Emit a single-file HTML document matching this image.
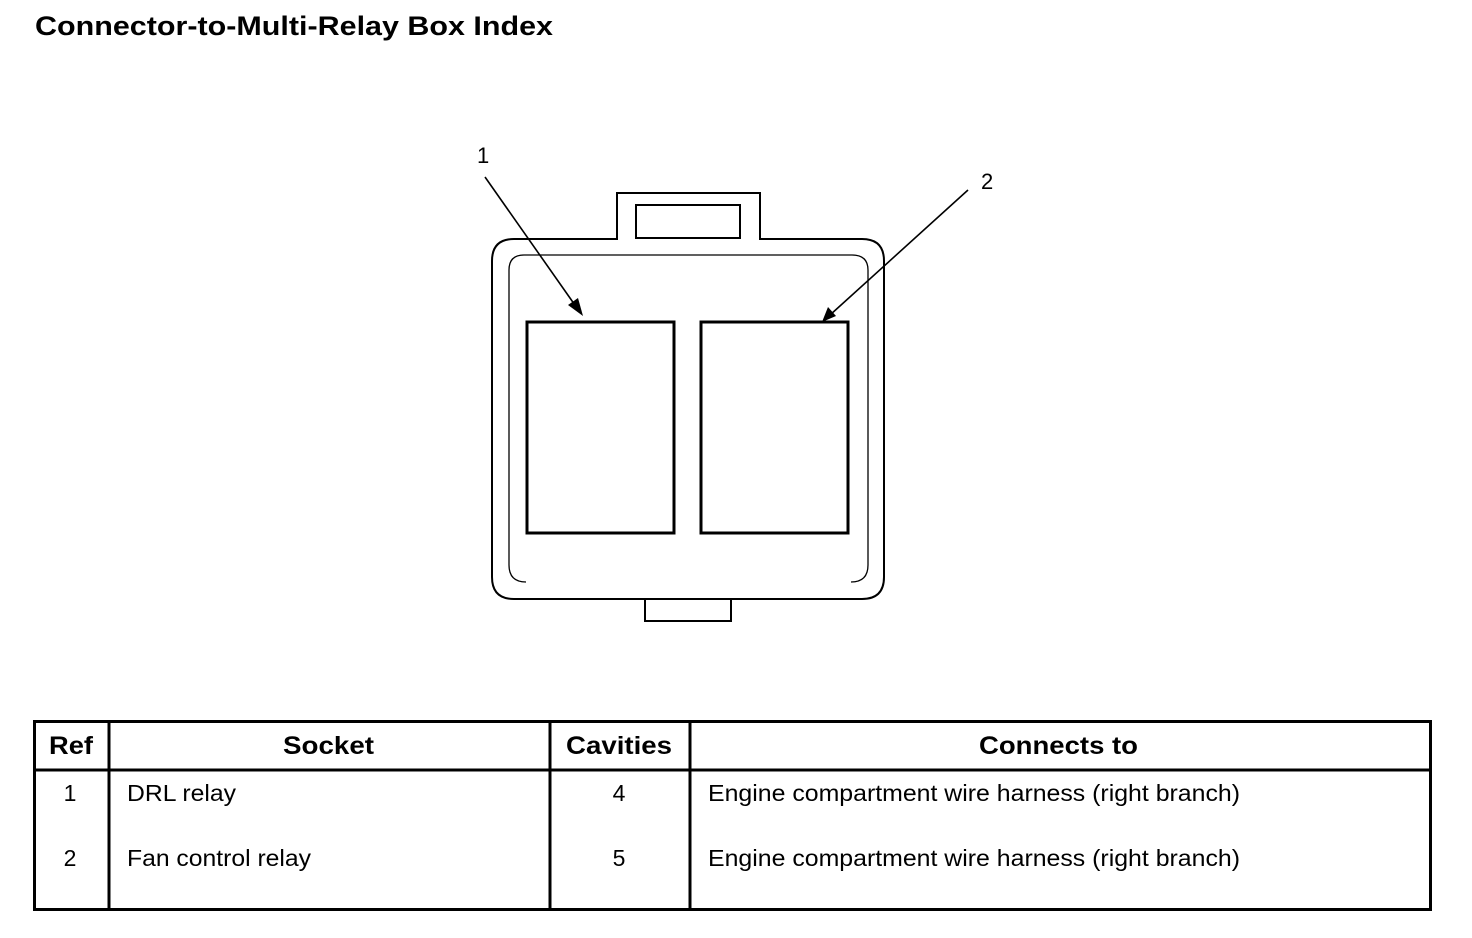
<!DOCTYPE html>
<html><head><meta charset="utf-8"><style>
html,body{margin:0;padding:0;background:#fff;}
svg{display:block;}
text{font-family:"Liberation Sans",Arial,sans-serif;fill:#000;}
</style></head><body>
<svg width="1472" height="938" viewBox="0 0 1472 938" xmlns="http://www.w3.org/2000/svg">
<rect width="1472" height="938" fill="#fff"/>
<text x="35" y="35" font-size="27" font-weight="bold" textLength="518" lengthAdjust="spacingAndGlyphs">Connector-to-Multi-Relay Box Index</text>

<g fill="none" stroke="#000">
<path d="M617,239 L617,193 L760,193 L760,239 L862,239 Q884,239 884,261 L884,577 Q884,599 862,599 L514,599 Q492,599 492,577 L492,261 Q492,239 514,239 Z" stroke-width="2"/>
<rect x="636" y="205" width="104" height="33" stroke-width="2"/>
<path d="M526,582 Q509,582 509,565 L509,270 Q509,255 524,255 L852,255 Q868,255 868,270 L868,565 Q868,582 851,582" stroke-width="1.3"/>
<path d="M645,599 L645,621 L731,621 L731,599" stroke-width="2"/>
<rect x="527" y="322" width="147" height="211" stroke-width="3"/>
<rect x="701" y="322" width="147" height="211" stroke-width="3"/>
<line x1="485" y1="177" x2="577" y2="308" stroke-width="1.6"/>
<line x1="968" y1="190" x2="830" y2="315" stroke-width="1.6"/>
</g>
<polygon points="583,316 568,305 578,298" fill="#000"/>
<polygon points="822,322 828,307 836,316" fill="#000"/>
<text x="477" y="163" font-size="22">1</text>
<text x="981" y="189" font-size="22">2</text>

<g fill="none" stroke="#000" stroke-width="3">
<rect x="34.5" y="721.5" width="1396" height="188"/>
<line x1="34" y1="770" x2="1431" y2="770"/>
<line x1="109" y1="721" x2="109" y2="910"/>
<line x1="550" y1="721" x2="550" y2="910"/>
<line x1="690" y1="721" x2="690" y2="910"/>
</g>
<g font-size="25" font-weight="bold">
<text x="49" y="754" textLength="44" lengthAdjust="spacingAndGlyphs">Ref</text>
<text x="283" y="754" textLength="91" lengthAdjust="spacingAndGlyphs">Socket</text>
<text x="566" y="754" textLength="106" lengthAdjust="spacingAndGlyphs">Cavities</text>
<text x="979" y="754" textLength="159" lengthAdjust="spacingAndGlyphs">Connects to</text>
</g>
<g font-size="23">
<text x="70" y="801" text-anchor="middle">1</text>
<text x="127" y="801" textLength="109" lengthAdjust="spacingAndGlyphs">DRL relay</text>
<text x="619" y="801" text-anchor="middle">4</text>
<text x="708" y="801" textLength="532" lengthAdjust="spacingAndGlyphs">Engine compartment wire harness (right branch)</text>
<text x="70" y="866" text-anchor="middle">2</text>
<text x="127" y="866" textLength="184" lengthAdjust="spacingAndGlyphs">Fan control relay</text>
<text x="619" y="866" text-anchor="middle">5</text>
<text x="708" y="866" textLength="532" lengthAdjust="spacingAndGlyphs">Engine compartment wire harness (right branch)</text>
</g>
</svg>
</body></html>
